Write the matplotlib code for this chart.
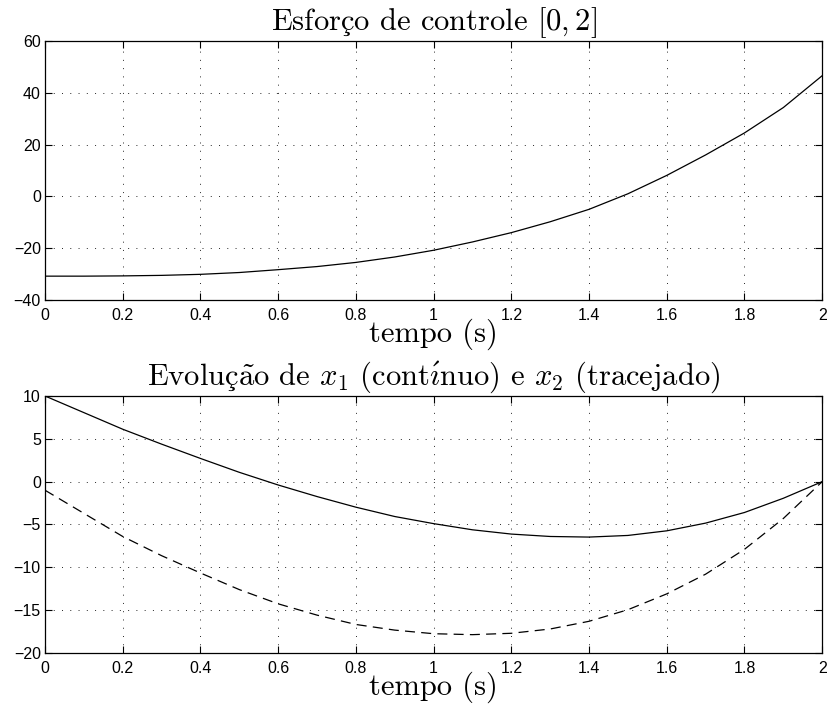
import numpy as np
import matplotlib
matplotlib.use("Agg")
import matplotlib.pyplot as plt

# tempo (s)
t = [0.0, 0.1, 0.2, 0.3, 0.4, 0.5, 0.6, 0.7, 0.8, 0.9, 1.0,
     1.1, 1.2, 1.3, 1.4, 1.5, 1.6, 1.7, 1.8, 1.9, 2.0]

# esforco de controle u(t)
u = [-30.8, -30.8, -30.7, -30.5, -30.1, -29.4, -28.3, -27.1, -25.5, -23.4, -20.8,
     -17.6, -14.0, -9.8, -5.0, 1.0, 8.1, 16.0, 24.5, 34.3, 46.6]

# estados
x1 = [10.0, 8.06, 6.12, 4.38, 2.71, 1.09, -0.39, -1.74, -2.98, -4.07, -4.9,
      -5.62, -6.12, -6.4, -6.47, -6.28, -5.74, -4.84, -3.6, -1.94, 0.0]
x2 = [-1.0, -3.7, -6.4, -8.64, -10.66, -12.6, -14.26, -15.58, -16.67, -17.33, -17.75,
      -17.86, -17.7, -17.2, -16.3, -14.95, -13.1, -10.8, -7.9, -4.3, 0.0]

xticks = [0, 0.2, 0.4, 0.6, 0.8, 1, 1.2, 1.4, 1.6, 1.8, 2]
xtick_labels = ["0", "0.2", "0.4", "0.6", "0.8", "1", "1.2", "1.4", "1.6", "1.8", "2"]

plt.rcParams["mathtext.fontset"] = "cm"
plt.rcParams["font.family"] = ["Liberation Sans", "DejaVu Sans"]
serif = ["cmr10", "DejaVu Serif"]
TAM = 22

fig = plt.figure(figsize=(8.3, 7.09), dpi=100)
ax1 = fig.add_axes([0.0542, 0.5769, 0.9364, 0.3653])
ax2 = fig.add_axes([0.0542, 0.0790, 0.9364, 0.3625])


def estilo(ax, yticks, ylim):
    ax.set_xlim(0, 2)
    ax.set_ylim(*ylim)
    ax.set_xticks(xticks)
    ax.set_xticklabels(xtick_labels)
    ax.set_yticks(yticks)
    ax.set_yticklabels([str(v).replace("-", "\u2212") for v in yticks])
    ax.tick_params(direction="in", length=5, width=0.8, top=True, right=True,
                   labelsize=11.5, colors="k")
    ax.tick_params(axis="x", pad=6)
    ax.tick_params(axis="y", pad=3)
    for s in ax.spines.values():
        s.set_linewidth(0.9)
    ax.grid(True, color="0.15", linewidth=0.7, dashes=(1, 7.5))
    ax.set_axisbelow(True)
    ax.set_xlabel("tempo (s)", family=serif, fontsize=TAM, labelpad=-3.5)


ax1.plot(t, u, color="k", linewidth=0.9)
estilo(ax1, [-40, -20, 0, 20, 40, 60], (-40, 60))
tit1 = ax1.set_title("Esforco de controle $[0,2]$", family=serif, fontsize=TAM, pad=8)

ax2.plot(t, x1, color="k", linewidth=0.9)
ax2.plot(t, x2, color="k", linewidth=0.9, dashes=(8, 5))
estilo(ax2, [-20, -15, -10, -5, 0, 5, 10], (-20, 10))
tit2 = ax2.set_title("Evoluc$\\tilde{\\mathrm{a}}$o de $x_1$ (cont$\\acute{\\imath}$nuo) e $x_2$ (tracejado)",
                     family=serif, fontsize=TAM, pad=8)

# cmr10 nao tem o "ç": desenha a cedilha por baixo do "c"
fig.canvas.draw()
r = fig.canvas.get_renderer()


def largura(s):
    tmp = fig.text(0, 0, s, family=serif, fontsize=TAM)
    w = tmp.get_window_extent(r).width
    tmp.remove()
    return w


def cedilha(ax, tit, prefixo):
    x0 = tit.get_window_extent(r).x0
    xc = x0 + (largura(prefixo) + largura(prefixo + "c")) / 2
    xa = ax.transAxes.inverted().transform((xc, 0))[0]
    ax.text(xa, tit.get_position()[1], "\u00b8", transform=tit.get_transform(),
            family="STIXGeneral", fontsize=TAM, ha="center", va="baseline")


cedilha(ax1, tit1, "Esfor")
cedilha(ax2, tit2, "Evolu")

plt.savefig("out.png", dpi=100)
